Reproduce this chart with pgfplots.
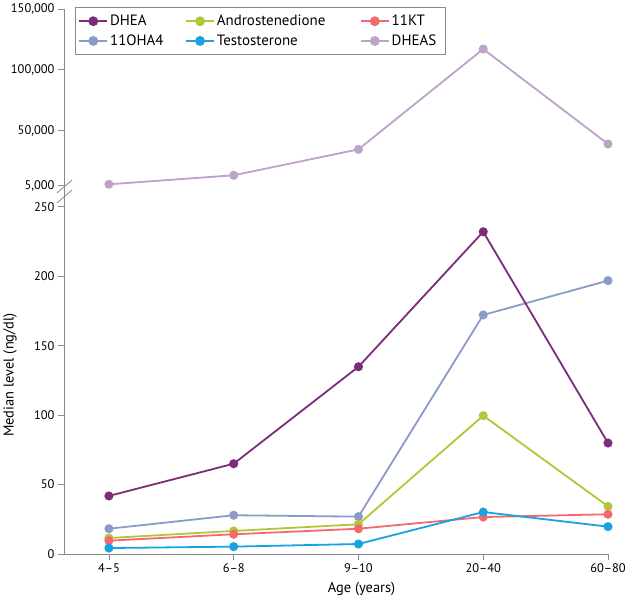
\documentclass[border=0pt]{standalone}
\usepackage{fontspec}
\setmainfont{PT Sans}
\usepackage{pgfplots}
\pgfplotsset{compat=1.18}
\definecolor{cDHEA}{HTML}{7B2C7A}
\definecolor{cOHA}{HTML}{8A9AC9}
\definecolor{cAndro}{HTML}{B5C53A}
\definecolor{cKT}{HTML}{F26A6E}
\definecolor{cTesto}{HTML}{18A2DE}
\definecolor{cDHEAS}{HTML}{BDA2C9}
\definecolor{axgray}{HTML}{8A8A8A}
\begin{document}
\begin{tikzpicture}
\useasboundingbox (0,0) rectangle (630bp,601bp);
\pgfplotsset{
 common/.style={scale only axis, width=544bp, xmin=-0.36, xmax=4, clip=false,
   axis line style={draw=axgray, line width=0.8bp, -},
   tick style={draw=axgray, line width=0.8bp}, tick align=outside, major tick length=6bp,
   /pgf/number format/assume math mode=true,
   scaled y ticks=false,
   tick label style={font=\fontsize{12.5}{14}\selectfont, text=black},
   every axis plot/.append style={line width=1.8bp, mark=*, mark size=3.6bp},
 }
}
\begin{axis}[common, at={(64bp,47bp)}, anchor=south west, height=362.4bp,
  ymin=0, ymax=260.9,
  axis x line*=bottom, axis y line*=left,
  xtick={0,1,2,3,4}, xticklabels={4--5,6--8,9--10,20--40,60--80},
  ytick={0,50,100,150,200,250},
  xlabel={Age (years)}, ylabel={Median level (ng/dl)},
  label style={font=\fontsize{14.5}{17}\selectfont},
  xlabel style={at={(axis description cs:0.547,-0.1076)}, anchor=base},
  ylabel style={at={(axis description cs:-0.0993,0.494)}, anchor=center},
]
\addplot[color=cOHA] coordinates {(0,18.2) (1,27.9) (2,26.9) (3,172.1) (4,196.8)};
\addplot[color=cAndro] coordinates {(0,11.5) (1,16.6) (2,21.4) (3,99.6) (4,34.3)};
\addplot[color=cKT] coordinates {(0,9.6) (1,14.2) (2,18.2) (3,26.6) (4,28.6)};
\addplot[color=cTesto] coordinates {(0,4.3) (1,5.3) (2,7.2) (3,30.2) (4,19.7)};
\addplot[color=cDHEA] coordinates {(0,41.8) (1,65.0) (2,134.8) (3,232.0) (4,79.9)};
\end{axis}
\begin{axis}[common, at={(64bp,409.4bp)}, anchor=south west, height=182.6bp,
  ymin=0, ymax=150000,
  axis y line*=left, axis x line=none,
  ytick={5000,50000,100000,150000},
  yticklabels={{5,000},{50,000},{100,000},{150,000}},
  legend columns=3,
  legend cell align=left,
  legend style={at={(axis description cs:0.0202,1.0093)}, anchor=north west,
    draw=axgray, line width=0.8bp, font=\fontsize{15}{18}\selectfont,
    inner xsep=3pt, inner ysep=5.5pt, row sep=3.6bp},
  legend image code/.code={\draw[#1, line width=1.8bp, mark size=4bp, mark repeat=2, mark phase=2] plot coordinates {(0bp,0bp) (14bp,0bp) (28bp,0bp)};},
]
\addlegendimage{color=cDHEA, line width=1.8bp, mark=*}
\addlegendentry{\makebox[73bp][l]{DHEA}}
\addlegendimage{color=cAndro, line width=1.8bp, mark=*}
\addlegendentry{\makebox[141bp][l]{Androstenedione}}
\addlegendimage{color=cKT, line width=1.8bp, mark=*}
\addlegendentry{\makebox[49bp][l]{11KT}}
\addlegendimage{color=cOHA, line width=1.8bp, mark=*}
\addlegendentry{\makebox[73bp][l]{11OHA4}}
\addlegendimage{color=cTesto, line width=1.8bp, mark=*}
\addlegendentry{\makebox[141bp][l]{Testosterone}}
\addplot[color=cDHEAS] coordinates {(0,6000) (1,13400) (2,34700) (3,117100) (4,39100)};
\addlegendentry{\makebox[49bp][l]{DHEAS}}
\end{axis}
\draw[axgray, line width=0.8bp] (57bp,408bp) -- (72bp,421bp);
\draw[axgray, line width=0.8bp] (57bp,398bp) -- (72bp,411bp);
\end{tikzpicture}
\end{document}
